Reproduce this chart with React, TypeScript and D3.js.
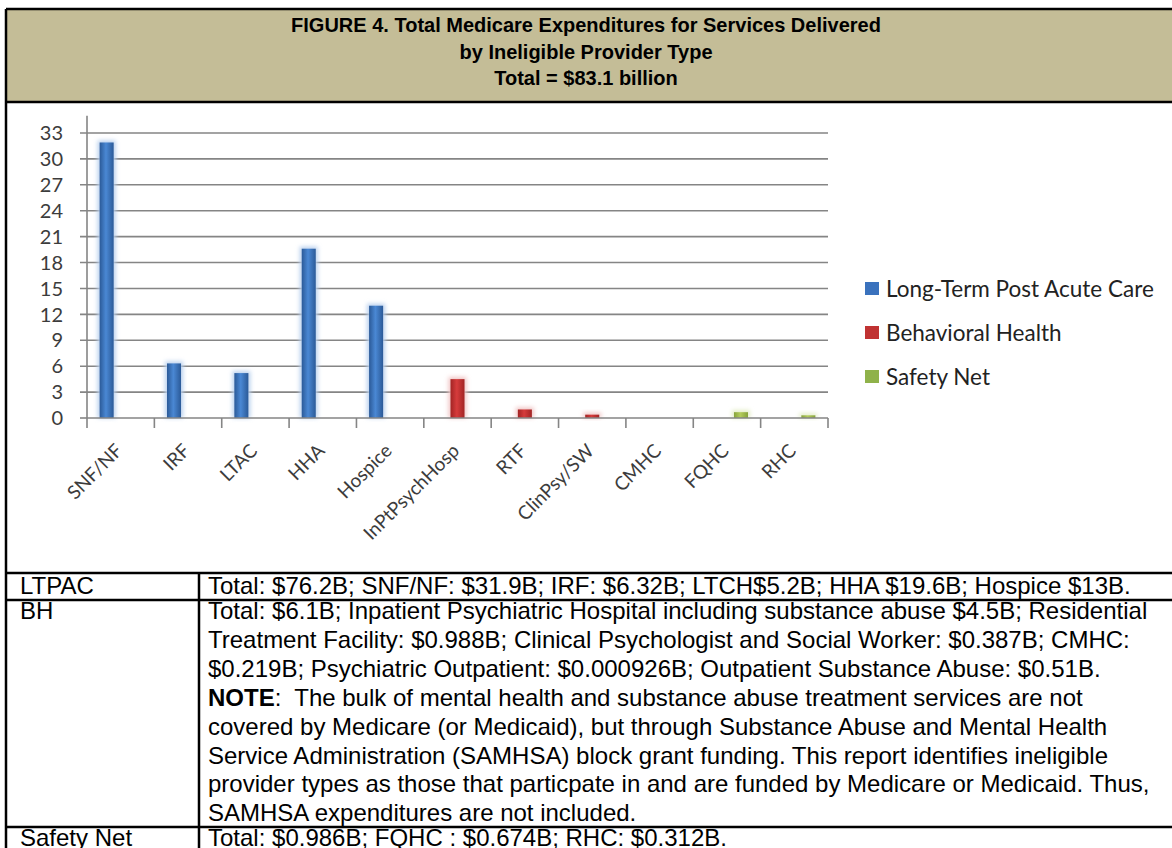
import React from 'react';
import * as d3 from 'd3';

// chart data (billions of dollars)
const categories = ['SNF/NF', 'IRF', 'LTAC', 'HHA', 'Hospice', 'InPtPsychHosp', 'RTF', 'ClinPsy/SW', 'CMHC', 'FQHC', 'RHC'];
const seriesNames = ['Long-Term Post Acute Care', 'Behavioral Health', 'Safety Net'];
const ltpacValues = [31.9, 6.32, 5.2, 19.6, 13, 0, 0, 0, 0, 0, 0];
const bhValues = [0, 0, 0, 0, 0, 4.5, 0.988, 0.387, 0, 0, 0];
const safetyNetValues = [0, 0, 0, 0, 0, 0, 0, 0, 0, 0.674, 0.312];
const yTicks = [0, 3, 6, 9, 12, 15, 18, 21, 24, 27, 30, 33];

const titleLines = [
  'FIGURE 4. Total Medicare Expenditures for Services Delivered',
  'by Ineligible Provider Type',
  'Total = $83.1 billion',
];

const ltpacText = 'Total: $76.2B; SNF/NF: $31.9B; IRF: $6.32B; LTCH$5.2B; HHA $19.6B; Hospice $13B.';
const bhLines = [
  'Total: $6.1B; Inpatient Psychiatric Hospital including substance abuse $4.5B; Residential',
  'Treatment Facility: $0.988B; Clinical Psychologist and Social Worker: $0.387B; CMHC:',
  '$0.219B; Psychiatric Outpatient: $0.000926B; Outpatient Substance Abuse: $0.51B.',
  'NOTE:  The bulk of mental health and substance abuse treatment services are not',
  'covered by Medicare (or Medicaid), but through Substance Abuse and Mental Health',
  'Service Administration (SAMHSA) block grant funding. This report identifies ineligible',
  'provider types as those that particpate in and are funded by Medicare or Medicaid. Thus,',
  'SAMHSA expenditures are not included.',
];
const safetyNetText = 'Total: $0.986B; FQHC : $0.674B; RHC: $0.312B.';

const seriesValues = [ltpacValues, bhValues, safetyNetValues];
const gradients = [
  { id: 'gBlue', edge: '#2b5a98', mid: '#4a88d4', swatch: '#3a72bd', glow: '#b9d0ee' },
  { id: 'gRed', edge: '#a22424', mid: '#d63c3c', swatch: '#c03232', glow: '#f0c4c4' },
  { id: 'gGreen', edge: '#86a33a', mid: '#b4cc5c', swatch: '#8fb24a', glow: '#e2ecc4' },
];

const W = 1172;
const H = 848;

export default function App() {
  const chartFont = 'Lato, "Open Sans", sans-serif';
  const tableFont = '"Liberation Sans", Arial, sans-serif';

  const x = d3.scaleBand<string>().domain(categories).range([87, 828]).paddingInner(0).paddingOuter(0);
  const xSub = d3.scaleBand<number>().domain([0, 1, 2]).range([0, x.bandwidth()]).paddingInner(0).paddingOuter(0.9);
  const y = d3.scaleLinear().domain([0, 35]).range([418, 115.7]);

  const boundaries = categories.map(c => x(c) as number).concat([x.range()[1]]);

  return (
    <div style={{ position: 'absolute', left: 0, top: 0 }}>
      <svg width={W} height={H} viewBox={`0 0 ${W} ${H}`} style={{ display: 'block', background: '#fff' }}>
        <defs>
          {gradients.map(g => (
            <linearGradient key={g.id} id={g.id} x1="0" x2="1" y1="0" y2="0">
              <stop offset="0%" stopColor={g.edge} />
              <stop offset="45%" stopColor={g.mid} />
              <stop offset="100%" stopColor={g.edge} />
            </linearGradient>
          ))}
          <filter id="glow" x="-50%" y="-50%" width="200%" height="200%">
            <feGaussianBlur stdDeviation="2" />
          </filter>
        </defs>

        {/* title band */}
        <rect x={6} y={9} width={W} height={93} fill="#c4bd97" />
        {titleLines.map((t, i) => (
          <text key={t} x={586} y={32 + i * 26.5} textAnchor="middle" fontFamily={tableFont}
            fontWeight="bold" fontSize={20} fill="#000">{t}</text>
        ))}

        {/* gridlines + y ticks */}
        {yTicks.map(t => (
          <g key={t}>
            <line x1={80} x2={t === 0 ? 87 : 828} y1={y(t)} y2={y(t)} stroke="#858585" strokeWidth={1.6} />
            <text x={63} y={y(t)} dy="0.36em" textAnchor="end" fontFamily={chartFont} fontSize={20} fill="#3c3c3c">{t}</text>
          </g>
        ))}
        <line x1={87} x2={87} y1={y(0)} y2={y(35)} stroke="#858585" strokeWidth={1.6} />

        {/* bars */}
        {seriesValues.map((vals, s) =>
          vals.map((v, i) => v > 0 ? (
            <g key={`${s}-${i}`}>
              <rect x={(x(categories[i]) as number) + (xSub(s) as number) - 2} y={y(v) - 2}
                width={xSub.bandwidth() + 4} height={y(0) - y(v) + 2} fill={gradients[s].glow} filter="url(#glow)" />
              <rect x={(x(categories[i]) as number) + (xSub(s) as number)} y={y(v)}
                width={xSub.bandwidth()} height={y(0) - y(v)} fill={`url(#${gradients[s].id})`} />
            </g>
          ) : null)
        )}

        {/* x axis */}
        <line x1={87} x2={828} y1={y(0)} y2={y(0)} stroke="#858585" strokeWidth={1.6} />
        {boundaries.map((b, i) => (
          <line key={i} x1={b} x2={b} y1={y(0)} y2={y(0) + 10} stroke="#858585" strokeWidth={1.6} />
        ))}
        {categories.map(c => {
          const cx = (x(c) as number) + x.bandwidth() / 2;
          return (
            <text key={c} transform={`translate(${cx + 3},${452}) rotate(-45)`} textAnchor="end"
              fontFamily={chartFont} fontSize={19} fill="#3c3c3c">{c}</text>
          );
        })}

        {/* legend */}
        {seriesNames.map((n, i) => (
          <g key={n} transform={`translate(865,${289 + i * 44})`}>
            <rect x={0} y={-7} width={14} height={13} fill={gradients[i].swatch} />
            <text x={21} y={0} dy="0.36em" fontFamily={chartFont} fontSize={22.5} fill="#222">{n}</text>
          </g>
        ))}

        {/* table */}
        <g fontFamily={tableFont} fontSize={24} fill="#000">
          <text x={20} y={594}>LTPAC</text>
          <text x={208} y={594}>{ltpacText}</text>
          <text x={20} y={619}>BH</text>
          {bhLines.map((l, i) => i === 3 ? (
            <text key={i} x={208} y={619 + i * 28.9} style={{ whiteSpace: 'pre' }}>
              <tspan fontWeight="bold">NOTE</tspan>{l.slice(4)}
            </text>
          ) : (
            <text key={i} x={208} y={619 + i * 28.9} style={{ whiteSpace: 'pre' }}>{l}</text>
          ))}
          <text x={20} y={846}>Safety Net</text>
          <text x={208} y={846}>{safetyNetText}</text>
        </g>

        {/* frame lines */}
        <g stroke="#000" strokeWidth={2.5}>
          <line x1={6} x2={W} y1={9} y2={9} />
          <line x1={6} x2={6} y1={9} y2={H} />
          <line x1={6} x2={W} y1={102} y2={102} />
          <line x1={6} x2={W} y1={573} y2={573} />
          <line x1={6} x2={W} y1={600} y2={600} />
          <line x1={6} x2={W} y1={827} y2={827} />
          <line x1={199} x2={199} y1={573} y2={H} />
        </g>
      </svg>
    </div>
  );
}
